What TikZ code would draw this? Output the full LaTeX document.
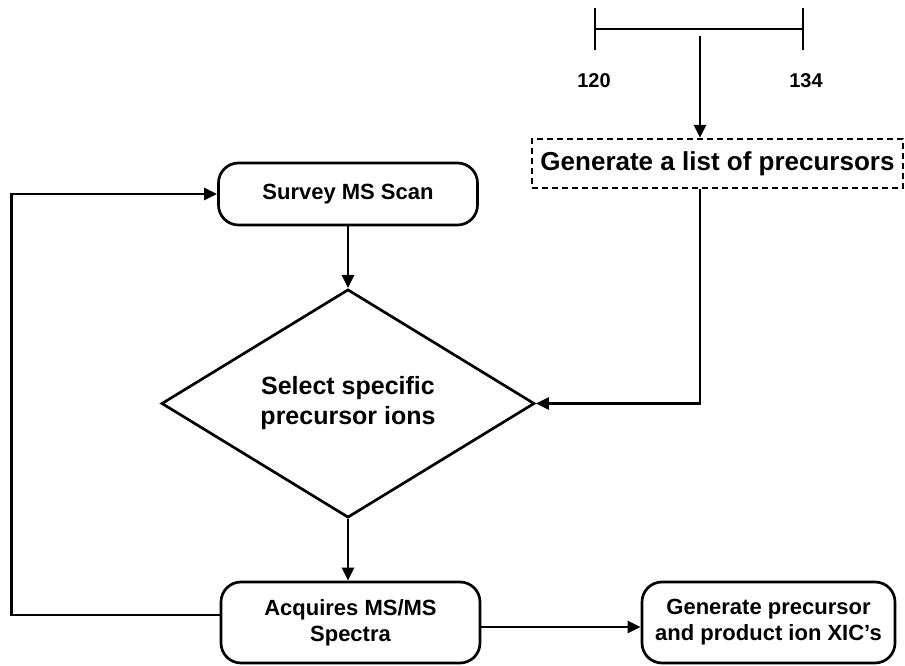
\documentclass[tikz,border=0pt]{standalone}
\usepackage{fontspec}
\setmainfont{Liberation Sans}
\usepackage{tikz}
\usetikzlibrary{arrows.meta,positioning,calc,shapes.geometric}
\definecolor{cInk}{HTML}{000000}
\tikzset{
  rbox/.style={draw=cInk,fill=white,rounded corners=20pt,line width=2.7pt,align=center,text=cInk,inner sep=3pt,font=\fontsize{22}{26}\selectfont\bfseries},
  dbox/.style={draw=cInk,dash pattern=on 6pt off 4pt,line width=2.4pt,align=center,text=cInk,inner sep=2pt,font=\fontsize{26}{30}\selectfont\bfseries},
  dmd/.style={diamond,draw=cInk,line width=2.7pt,align=center,inner sep=0pt,font=\fontsize{25}{30}\selectfont\bfseries},
  arr/.style={-{Triangle[length=13pt,width=12pt]},line width=2.7pt,color=cInk},
  ln/.style={line width=2.7pt,color=cInk},
  tick/.style={font=\fontsize{20}{22}\selectfont\bfseries,text=cInk},
}
\begin{document}
\begin{tikzpicture}[x=1pt,y=1pt]
    \useasboundingbox (0,0) rectangle (905,665);
    % mass range bar
    \coordinate (lo) at (595,636);
    \coordinate (hi) at (803,636);
    \coordinate (mid) at (700,629);
    \draw[ln] (lo) -- (hi);
    \draw[ln] ($(lo)+(0,21)$) -- ($(lo)+(0,-21)$);
    \draw[ln] ($(hi)+(0,21)$) -- ($(hi)+(0,-21)$);
    \node[tick] (l120) at (594,584) {120};
    \node[tick] (l134) at (806,584) {134};
    % boxes
    \node[dbox,minimum width=371pt,minimum height=49pt] (list) at (717.5,501.5) {Generate a list of precursors};
    \node[rbox,minimum width=259pt,minimum height=62pt] (scan) at (348,471) {Survey MS Scan};
    \node[dmd,minimum width=373pt,minimum height=192pt] (sel) at (348,261.5) {Select specific\\precursor ions};
    \node[rbox,minimum width=259pt,minimum height=81pt] (acq) at (350.5,42.5) {Acquires MS/MS\\Spectra};
    \node[rbox,minimum width=253pt,minimum height=81pt] (xic) at (768.5,42.5) {Generate precursor\\and product ion XIC's};
    % connectors
    \draw[arr] (mid) -- (mid |- list.north);
    \draw[arr] (list.south -| mid) |- (sel.east);
    \draw[arr] (scan) -- (sel.north);
    \draw[arr] (sel.south) -- (sel.south |- acq.north);
    \draw[arr] ([yshift=-4.5pt]acq.east) -- ([yshift=-4.5pt]acq.east -| xic.west);
    \draw[arr] ([yshift=7.5pt]acq.west) -- ++(-208.5,0) |- (scan.west);
\end{tikzpicture}
\end{document}
